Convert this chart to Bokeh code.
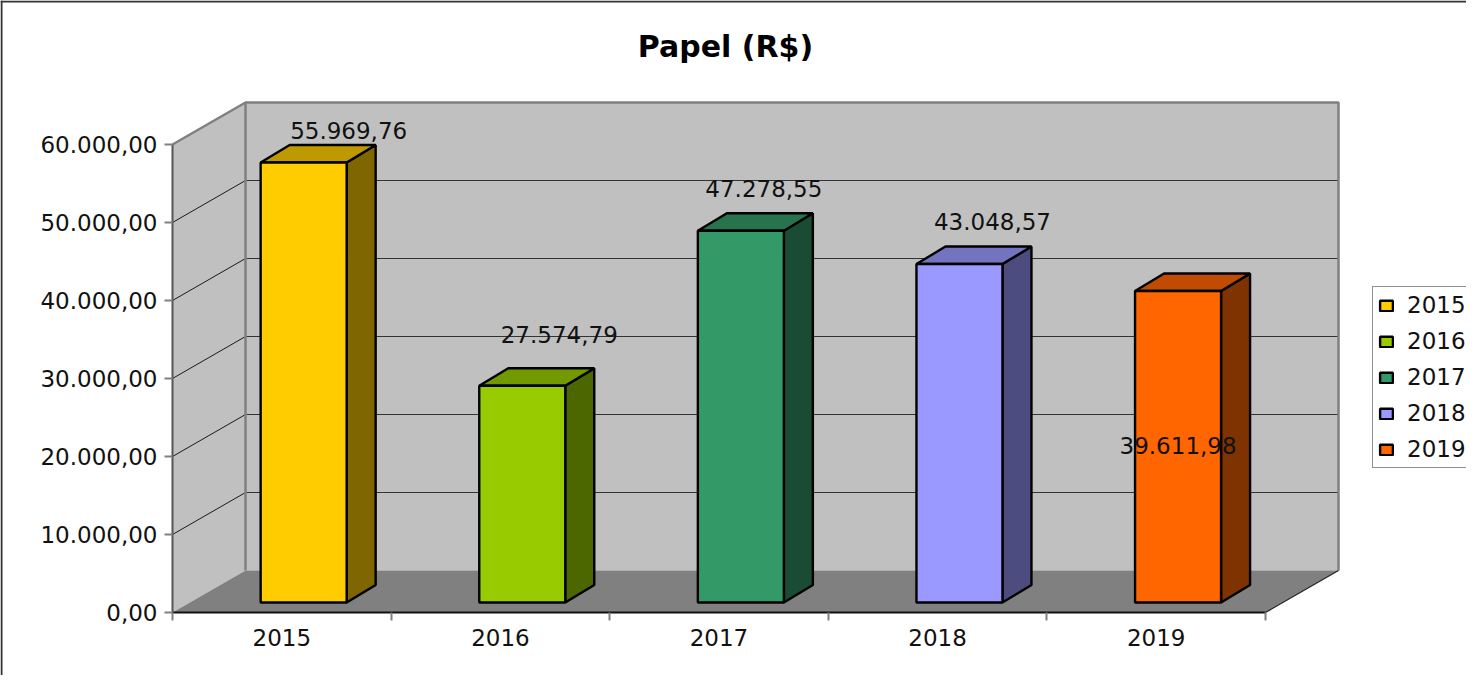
from bokeh.plotting import figure
from bokeh.embed import file_html
from bokeh.resources import INLINE
from bokeh.models import FixedTicker, Span, Label, Legend, LegendItem, Range1d
from bokeh.core.properties import value

# ---- data ----
TITLE = "Papel (R$)"
YEARS = ["2015", "2016", "2017", "2018", "2019"]
VALUES = [55969.76, 27574.79, 47278.55, 43048.57, 39611.98]
VALUE_LABELS = ["55.969,76", "27.574,79", "47.278,55", "43.048,57", "39.611,98"]
Y_TICKS = [0, 10000, 20000, 30000, 40000, 50000, 60000]
Y_TICK_LABELS = ["0,00", "10.000,00", "20.000,00", "30.000,00", "40.000,00", "50.000,00", "60.000,00"]

# ---- styles ----
FRONT = ["#FFCC00", "#99CC00", "#339966", "#9999FF", "#FF6600"]
SIDE = ["#7F6600", "#4C6600", "#194C33", "#4C4C7F", "#7F3300"]
TOP = ["#BF9900", "#739900", "#26734D", "#7373BF", "#BF4C00"]
FONT = "DejaVu Sans"
FS = "23px"
LABEL_DX = [45, 37, 23, 33, 0]
LABEL_DY = [-32, -51, -42, -43, 154]

# ---- geometry (pixels per data unit, with the plot frame filling the canvas) ----
W, H = 1466, 675
XS = 218.6            # px per category
YS = 7.8 / 1000       # px per value unit
X0, Y0 = 172, 612     # canvas position of the axes' origin
x_start, x_end = -X0 / XS, (W - X0) / XS
y_end, y_start = Y0 / YS, (Y0 - H) / YS
DX, DY = 73 / XS, 42 / YS          # depth of the box
BDX, BDY = 29 / XS, 17.5 / YS      # depth of a bar
BW = 86 / XS                       # bar width
BX = 0.6                           # bar centre within a category
BASE = 10 / YS                     # bar base above the front floor edge
BK = 1.008                         # bar height factor
N = len(YEARS)
YMAX = Y_TICKS[-1]

p = figure(width=W, height=H, output_backend="svg", toolbar_location=None,
           x_range=Range1d(x_start, x_end), y_range=Range1d(y_start, y_end),
           min_border=0, min_border_left=0, min_border_right=0,
           min_border_top=0, min_border_bottom=0)
p.outline_line_color = None
p.grid.visible = False
p.background_fill_color = "white"

# walls and floor
p.patch([0, DX, DX, 0], [0, DY, YMAX + DY, YMAX], fill_color="#C0C0C0", line_color=None)
p.patch([DX, N + DX, N + DX, DX], [DY, DY, YMAX + DY, YMAX + DY], fill_color="#C0C0C0", line_color=None)
p.patch([0, N, N + DX, DX], [0, 0, DY, DY], fill_color="#808080", line_color=None)

# gridlines
for t in Y_TICKS[1:-1]:
    p.line([0, DX], [t, t + DY], line_color="#1a1a1a", line_width=1)
    p.line([DX, N + DX], [t + DY, t + DY], line_color="#333333", line_width=1.2)
p.line([DX, DX], [DY, YMAX + DY], line_color="#808080", line_width=2.5)
p.line([0, DX, N + DX, N + DX], [YMAX, YMAX + DY, YMAX + DY, DY], line_color="#808080", line_width=2.5)
p.line([N, N + DX], [0, DY], line_color="#222222", line_width=1.2)

# bars
legend_items = []
for i, (v, f, s, t) in enumerate(zip(VALUES, FRONT, SIDE, TOP)):
    l = i + BX - BW / 2
    r = i + BX + BW / 2
    b = BASE
    h = BASE + v * BK
    p.patch([r, r + BDX, r + BDX, r], [b, b + BDY, h + BDY, h], fill_color=s, line_color="black", line_width=2.4)
    p.patch([l, r, r + BDX, l + BDX], [h, h, h + BDY, h + BDY], fill_color=t, line_color="black", line_width=2.4)
    q = p.quad(left=l, right=r, bottom=b, top=h, fill_color=f, line_color="black", line_width=2.4)
    legend_items.append(LegendItem(label=YEARS[i], renderers=[q]))

# value labels
p.text(x=[i + BX for i in range(N)], y=[BASE + v * BK for v in VALUES], text=VALUE_LABELS,
       x_offset=LABEL_DX, y_offset=LABEL_DY, text_align="center", text_baseline="middle",
       text_font=value(FONT), text_font_size=value(FS), text_color="#111111")

# axes
ya = p.yaxis[0]
ya.fixed_location = 0
ya.bounds = (0, YMAX)
ya.ticker = FixedTicker(ticks=Y_TICKS)
ya.major_label_overrides = dict(zip(Y_TICKS, Y_TICK_LABELS))
ya.minor_tick_line_color = None
ya.major_tick_in = 0
ya.major_tick_out = 8
ya.major_tick_line_color = "#808080"
ya.major_tick_line_width = 2
ya.axis_line_color = "#555555"
ya.axis_line_width = 2
ya.major_label_text_font = FONT
ya.major_label_text_font_size = FS
ya.major_label_text_color = "#111111"
ya.major_label_standoff = 7

xa = p.xaxis[0]
xa.fixed_location = 0
xa.bounds = (0, N)
xa.ticker = FixedTicker(ticks=[i + 0.5 for i in range(N)], minor_ticks=list(range(N + 1)))
xa.major_label_overrides = {i + 0.5: y for i, y in enumerate(YEARS)}
xa.major_tick_line_color = None
xa.major_tick_in = 0
xa.major_tick_out = 0
xa.minor_tick_in = 0
xa.minor_tick_out = 8
xa.minor_tick_line_color = "#808080"
xa.minor_tick_line_width = 2
xa.axis_line_color = "#111111"
xa.axis_line_width = 2
xa.major_label_text_font = FONT
xa.major_label_text_font_size = FS
xa.major_label_text_color = "#111111"
xa.major_label_standoff = 8

# outer chart border (left and top only reach the window)
p.add_layout(Span(location=x_start + 1 / XS, dimension="height", line_color="#333333", line_width=2))
p.add_layout(Span(location=y_end - 1 / YS, dimension="width", line_color="#333333", line_width=2))

# title
p.add_layout(Label(x=725, y=H - 46, x_units="screen", y_units="screen", text=TITLE,
                   text_align="center", text_baseline="middle", text_font=FONT,
                   text_font_style="bold", text_font_size="30px", text_color="black"))

# legend
leg = Legend(items=legend_items, location=(1372, 207), orientation="vertical",
             border_line_color="#222222", border_line_width=1, background_fill_color="white",
             background_fill_alpha=1, glyph_width=16, glyph_height=13, label_standoff=13,
             label_text_font=FONT, label_text_font_size=FS, label_text_color="#111111",
             spacing=10, padding=5, margin=0, label_height=22)
p.add_layout(leg, "center")

open("out.html", "w").write(file_html(p, INLINE))
